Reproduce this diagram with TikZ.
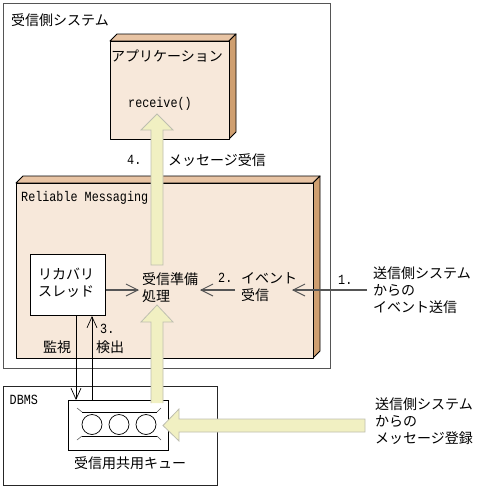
\documentclass[tikz,border=0pt]{standalone}
\usepackage{fontspec}
\newfontfamily\cjk{Noto Sans CJK JP}
\newfontfamily\lat[FakeStretch=0.84]{Liberation Mono}
\usetikzlibrary{arrows.meta,calc}
\definecolor{front}{HTML}{F7E8DA}
\definecolor{topf}{HTML}{E8C4A4}
\definecolor{sidef}{HTML}{CF9F70}
\definecolor{fat}{HTML}{F1F0C2}
\definecolor{fatb}{HTML}{BEBEB0}
\definecolor{frameg}{HTML}{555555}
\tikzset{
  lab/.style={anchor=west,inner sep=0pt,align=left,text=black,font=\cjk\fontsize{14}{17.2}\selectfont},
  ltn/.style={anchor=west,inner sep=0pt,text=black,font=\lat\fontsize{14}{16}\selectfont},
  frame/.style={draw=frameg,line width=0.9pt,fill=white},
  box3d/.style={draw=black,line width=0.9pt,line join=round},
  fatarrow/.style={draw=fatb,fill=fat,line width=0.8pt,line join=miter},
  greyarrow/.style={draw=frameg,line width=1.1pt,-{Straight Barb[length=12pt,width=12pt,line width=0.9pt]}},
  thinarrow/.style={draw=black,line width=0.7pt,-{Straight Barb[length=11pt,width=10pt,line width=0.7pt]}},
  qline/.style={draw=black,line width=0.8pt},
  qflare/.style={draw=black!70,line width=0.5pt}
}
% #1 left, #2 top, #3 right, #4 bottom of the front face
\newcommand{\blockthree}[4]{%
  \path[box3d,fill=topf] (#1,#2) -- (#1+7,#2-7) -- (#3+7,#2-7) -- (#3,#2) -- cycle;
  \path[box3d,fill=sidef] (#3,#2) -- (#3+7,#2-7) -- (#3+7,#4-7) -- (#3,#4) -- cycle;
  \path[box3d,fill=front] (#1,#2) rectangle (#3,#4);
}
\begin{document}
\begin{tikzpicture}[x=1pt,y=-1pt]
\useasboundingbox[fill=white] (0,0) rectangle (477,488);
% frames
\draw[frame] (3,3) rectangle (330,368);
\draw[frame,draw=black!85] (3,386) rectangle (217,485);
% 3D blocks
\blockthree{110}{41}{229}{139}
\blockthree{16}{183}{313}{358}
% texts in frames
\node[lab] (sysT) at (11,20) {受信側システム};
\node[lab] (appT) at (111,56) {アプリケーション};
\node[ltn] (recvT) at (128,104) {receive()};
\node[ltn] (n4) at (127,160) {4.};
\node[lab] (msgT) at (168,160) {メッセージ受信};
\node[ltn] (rmT) at (21,198) {Reliable Messaging};
\node[ltn] (dbT) at (9.5,400) {DBMS};
% recovery thread
\node[draw=black,line width=0.9pt,fill=white,minimum width=75pt,minimum height=61.5pt,inner sep=0pt,anchor=north west] (rec) at (30,253.5) {};
\node[lab] (recT) at (38,283) {リカバリ\\スレッド};
% queue
\node[draw=black,line width=0.9pt,fill=white,minimum width=100pt,minimum height=50pt,inner sep=0pt,anchor=north west] (q) at (68,400) {};
\draw[qline] (82,412) -- (157,412);
\draw[qline] (82,436) -- (157,436);
\draw[qflare] (77,408) -- (82,412) (157,412) -- (161,408);
\draw[qflare] (77,440) -- (82,436) (157,436) -- (161,440);
\node[draw=black,line width=0.7pt,circle,minimum size=20pt,inner sep=0pt] (c1) at (92,424.5) {};
\node[draw=black,line width=0.7pt,circle,minimum size=20pt,inner sep=0pt] (c2) at (119,424.5) {};
\node[draw=black,line width=0.7pt,circle,minimum size=20pt,inner sep=0pt] (c3) at (146,424.5) {};
\node[lab] (qT) at (74,463) {受信用共用キュー};
% labels
\node[lab] (readyT) at (142,288) {受信準備\\処理};
\node[ltn] (n2) at (218,278) {2.};
\node[lab] (evT) at (241,287) {イベント\\受信};
\node[ltn] (n1) at (338,280) {1.};
\node[lab] (sendA) at (373,290) {送信側システム\\からの\\イベント送信};
\node[lab] (sendB) at (375,421) {送信側システム\\からの\\メッセージ登録};
\node[lab] (kanshi) at (43,347) {監視};
\node[ltn] (n3) at (100,329) {3.};
\node[lab] (kenshutsu) at (96,347) {検出};
% fat arrows
\draw[fatarrow] (151,265) -- (151,130) -- (141,130) -- (157,114) -- (173,130) -- (163,130) -- (163,265) -- cycle;
\draw[fatarrow] (151,403) -- (151,322) -- (141,322) -- (157,305) -- (173,322) -- (163,322) -- (163,403);
\draw[fatarrow] (365,419) -- (179,419) -- (179,409) -- (163,425.5) -- (179,441) -- (179,432) -- (365,432) -- cycle;
% thin connectors
\coordinate (a1s) at (367,290); \coordinate (a1e) at (292,290);
\coordinate (a2s) at (235,290); \coordinate (a2e) at (200,290);
\coordinate (a3e) at (139,290);
\draw[greyarrow] (a1s) -- (a1e);
\draw[greyarrow] (a2s) -- (a2e);
\draw[greyarrow] (rec.east |- a3e) -- (a3e);
\coordinate (m1) at (76,315); \coordinate (m2) at (76,400);
\coordinate (d1) at (92,400); \coordinate (d2) at (92,316);
\draw[thinarrow] (m1) -- (m2);
\draw[thinarrow] (d1) -- (d2);
\end{tikzpicture}
\end{document}
